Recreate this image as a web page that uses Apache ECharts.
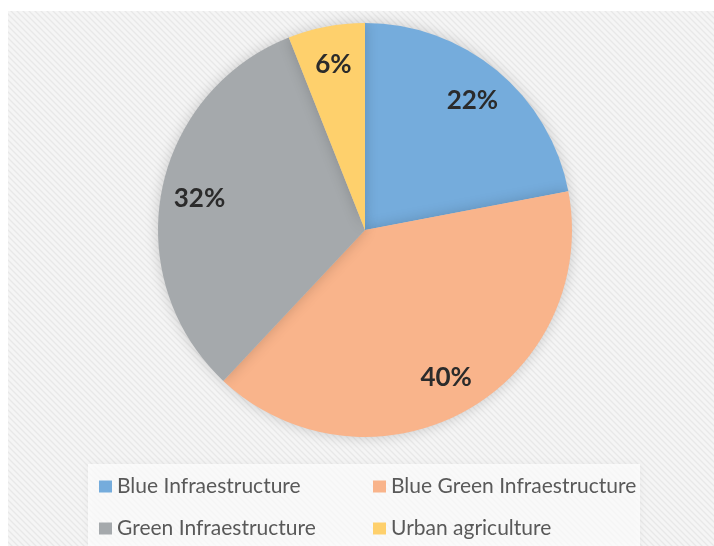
<!DOCTYPE html>
<html><head><meta charset="utf-8">
<script src="https://cdn.jsdelivr.net/npm/echarts@6/dist/echarts.min.js"></script>
<style>html,body{margin:0;padding:0;background:#fff}#c{width:714px;height:546px}</style>
</head><body><div id="c"></div>
<script>
var categories = ['Blue Infraestructure','Blue Green Infraestructure','Green Infraestructure','Urban agriculture'];
var values = [22, 40, 32, 6];
var colors = ['#75acdc','#f9b48b','#a5a9ac','#fed06c'];

var pat = document.createElement('canvas');
pat.width = 6; pat.height = 6;
var g = pat.getContext('2d');
g.fillStyle = '#f5f5f5'; g.fillRect(0,0,6,6);
g.strokeStyle = '#e8e8e8'; g.lineWidth = 1.3;
g.beginPath(); g.moveTo(0,0); g.lineTo(6,6); g.moveTo(-3,3); g.lineTo(3,9); g.moveTo(3,-3); g.lineTo(9,3); g.stroke();

var data = categories.map(function(n,i){return {name:n, value:values[i], itemStyle:{color:colors[i]}};});
var chart = echarts.init(document.getElementById('c'));
var legendPos = [[99,476],[373,476],[99,518],[373,518]];
var legends = categories.map(function(n,i){
  return {left:legendPos[i][0], top:legendPos[i][1], padding:0, data:[n], itemWidth:13, itemHeight:12, itemGap:0, icon:'rect',
    selectedMode:false, textStyle:{fontFamily:'Lato', fontSize:21, color:'#595959'}};
});
chart.setOption({
  animation:false,
  graphic:[
    {type:'rect', z:-10, shape:{x:8,y:11,width:706,height:535}, style:{fill:{image:pat, repeat:'repeat'}}},
    {type:'rect', z:-9, shape:{x:88,y:464,width:552,height:82}, style:{fill:'rgba(255,255,255,0.72)', shadowBlur:8, shadowColor:'rgba(0,0,0,0.07)'}}
  ],
  legend:legends,
  series:[
    {type:'pie', center:[365,230], radius:207, startAngle:90, clockwise:true,
     label:{show:false}, labelLine:{show:false},
     itemStyle:{shadowBlur:14, shadowColor:'rgba(0,0,0,0.18)'},
     emphasis:{disabled:true}, data:data},
    {type:'pie', center:[365,230], radius:[124,207], startAngle:90, clockwise:true, silent:true,
     itemStyle:{color:'transparent'}, labelLine:{show:false},
     label:{show:true, position:'inside', formatter:'{c}%', fontFamily:'Lato', fontWeight:'bold', fontSize:26, color:'#2b2b2b'},
     emphasis:{disabled:true}, legendHoverLink:false,
     data:categories.map(function(n,i){return {name:n+' ', value:values[i]};})}
  ]
});
</script></body></html>
